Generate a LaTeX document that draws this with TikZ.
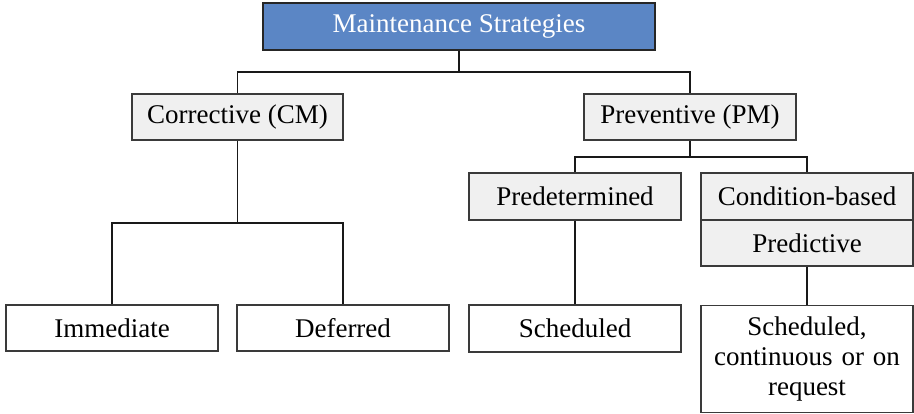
\documentclass[tikz,border=0pt]{standalone}
\usepackage{fontspec}
\setmainfont{Liberation Serif}
\definecolor{topblue}{HTML}{5B86C5}
\definecolor{boxgray}{HTML}{F0F0F0}
\definecolor{edgegray}{HTML}{3A3A3A}
\begin{document}
\begin{tikzpicture}[x=1pt,y=-1pt,
  base/.style={draw=edgegray,line width=1.2pt,inner sep=0pt,align=center,
    font=\fontsize{27}{30}\selectfont,minimum width=212pt,minimum height=46pt},
  topbox/.style={base,fill=topblue,text=white,draw=black!85,minimum width=392pt,minimum height=47pt},
  graybox/.style={base,fill=boxgray},
  whitebox/.style={base,fill=white},
  conn/.style={draw=black!90,line width=1.2pt}]
\fill[white] (0,0) rectangle (914,414);
\useasboundingbox (0,0) rectangle (914,414);
\node[topbox] (top) at (459,26.5) {Maintenance Strategies};
\node[graybox,minimum width=211pt] (corr) at (237.5,117) {Corrective (CM)};
\node[graybox] (prev) at (690,117) {Preventive (PM)};
\node[whitebox] (imm) at (112,328) {Immediate};
\node[whitebox] (def) at (343,328) {Deferred};
\node[graybox,minimum height=47pt] (predet) at (575,196.5) {Predetermined};
\node[graybox,minimum height=47pt] (cond) at (807,196.5) {Condition-based};
\node[graybox] (predic) at (807,243) {Predictive};
\node[whitebox,minimum height=47pt] (sched) at (575,328.5) {Scheduled};
\node[whitebox,minimum height=107pt,text width=200pt] (sched2) at (807,359) {Scheduled,\\continuous or on\\request};
\coordinate (b1) at (0,72);
\coordinate (b2) at (0,223);
\coordinate (b3) at (0,157);
\draw[conn] (top.south) -- (top.south |- b1) -| (corr.north);
\draw[conn] (top.south |- b1) -| (prev.north);
\draw[conn] (corr.south) -- (corr.south |- b2) -| (imm.north);
\draw[conn] (corr.south |- b2) -| (def.north);
\draw[conn] (prev.south) -- (prev.south |- b3) -| (predet.north);
\draw[conn] (prev.south |- b3) -| (cond.north);
\draw[conn] (predet.south) -- (sched.north);
\draw[conn] (predic.south) -- (sched2.north);
\end{tikzpicture}
\end{document}
